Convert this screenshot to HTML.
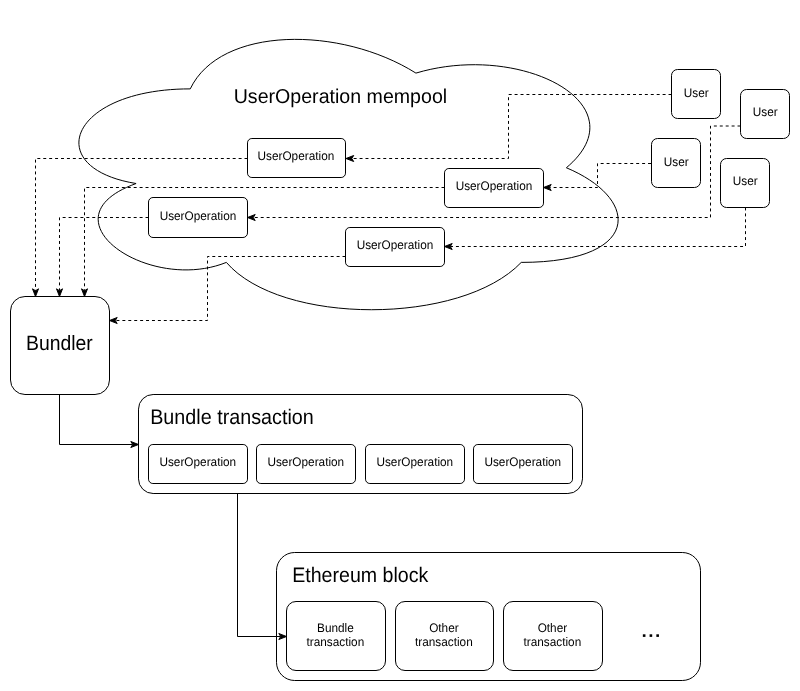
<!DOCTYPE html>
<html><head><meta charset="utf-8"><style>
html,body{margin:0;padding:0;background:#fff;}
body{width:800px;height:691px;overflow:hidden;}
svg{display:block;will-change:transform;}
text{font-family:"Liberation Sans", sans-serif;fill:#000;text-rendering:geometricPrecision;}
.cl{fill:#fff;stroke:#000;stroke-width:1;}
.bx{fill:#fff;stroke:#000;stroke-width:1;}
.dl{fill:none;stroke:#000;stroke-width:1;stroke-dasharray:2.96 2.96;}
.sl{fill:none;stroke:#000;stroke-width:1;}
.ah{fill:#000;stroke:#000;stroke-width:1;}
</style></head><body>
<svg width="800" height="691" viewBox="0 0 800 691">
<path d="M190.25,88.88 C69.89,88.88 39.80,167.75 136.09,183.53 C39.80,218.23 148.12,293.95 226.36,262.40 C280.52,325.50 461.06,325.50 521.24,262.40 C641.60,262.40 641.60,199.30 566.37,167.75 C641.60,104.65 521.24,41.55 415.93,73.10 C340.70,25.77 220.34,25.77 190.25,88.88 Z" class="cl"/>
<text transform="translate(233.70,103.40) scale(1,1.02)" font-size="19.6" text-anchor="start">UserOperation mempool</text>
<path d="M251.87,138.50 L341.13,138.50 A4.37,4.37 0 0 1 345.50,142.87 L345.50,173.13 A4.37,4.37 0 0 1 341.13,177.50 L251.87,177.50 A4.37,4.37 0 0 1 247.50,173.13 L247.50,142.87 A4.37,4.37 0 0 1 251.87,138.50 Z" class="bx"/>
<text transform="translate(295.90,160.45) scale(1,1.05)" font-size="11.8" text-anchor="middle">UserOperation</text>
<path d="M153.04,197.50 L242.96,197.50 A4.54,4.54 0 0 1 247.50,202.04 L247.50,232.96 A4.54,4.54 0 0 1 242.96,237.50 L153.04,237.50 A4.54,4.54 0 0 1 148.50,232.96 L148.50,202.04 A4.54,4.54 0 0 1 153.04,197.50 Z" class="bx"/>
<text transform="translate(198.00,219.65) scale(1,1.05)" font-size="11.8" text-anchor="middle">UserOperation</text>
<path d="M448.87,168.50 L539.13,168.50 A4.37,4.37 0 0 1 543.50,172.87 L543.50,203.13 A4.37,4.37 0 0 1 539.13,207.50 L448.87,207.50 A4.37,4.37 0 0 1 444.50,203.13 L444.50,172.87 A4.37,4.37 0 0 1 448.87,168.50 Z" class="bx"/>
<text transform="translate(494.00,189.65) scale(1,1.05)" font-size="11.8" text-anchor="middle">UserOperation</text>
<path d="M349.87,227.50 L440.13,227.50 A4.37,4.37 0 0 1 444.50,231.87 L444.50,262.13 A4.37,4.37 0 0 1 440.13,266.50 L349.87,266.50 A4.37,4.37 0 0 1 345.50,262.13 L345.50,231.87 A4.37,4.37 0 0 1 349.87,227.50 Z" class="bx"/>
<text transform="translate(395.00,248.75) scale(1,1.05)" font-size="11.8" text-anchor="middle">UserOperation</text>
<path d="M677.58,69.50 L714.42,69.50 A6.08,6.08 0 0 1 720.50,75.58 L720.50,112.42 A6.08,6.08 0 0 1 714.42,118.50 L677.58,118.50 A6.08,6.08 0 0 1 671.50,112.42 L671.50,75.58 A6.08,6.08 0 0 1 677.58,69.50 Z" class="bx"/>
<text transform="translate(696.20,96.55) scale(1,1.05)" font-size="11.8" text-anchor="middle">User</text>
<path d="M746.58,89.50 L783.42,89.50 A6.08,6.08 0 0 1 789.50,95.58 L789.50,132.42 A6.08,6.08 0 0 1 783.42,138.50 L746.58,138.50 A6.08,6.08 0 0 1 740.50,132.42 L740.50,95.58 A6.08,6.08 0 0 1 746.58,89.50 Z" class="bx"/>
<text transform="translate(765.20,115.60) scale(1,1.05)" font-size="11.8" text-anchor="middle">User</text>
<path d="M657.58,138.50 L694.42,138.50 A6.08,6.08 0 0 1 700.50,144.58 L700.50,181.42 A6.08,6.08 0 0 1 694.42,187.50 L657.58,187.50 A6.08,6.08 0 0 1 651.50,181.42 L651.50,144.58 A6.08,6.08 0 0 1 657.58,138.50 Z" class="bx"/>
<text transform="translate(676.20,165.60) scale(1,1.05)" font-size="11.8" text-anchor="middle">User</text>
<path d="M726.58,158.50 L763.42,158.50 A6.08,6.08 0 0 1 769.50,164.58 L769.50,201.42 A6.08,6.08 0 0 1 763.42,207.50 L726.58,207.50 A6.08,6.08 0 0 1 720.50,201.42 L720.50,164.58 A6.08,6.08 0 0 1 726.58,158.50 Z" class="bx"/>
<text transform="translate(745.20,184.65) scale(1,1.05)" font-size="11.8" text-anchor="middle">User</text>
<path d="M24.96,296.50 L95.04,296.50 A14.46,14.46 0 0 1 109.50,310.96 L109.50,380.04 A14.46,14.46 0 0 1 95.04,394.50 L24.96,394.50 A14.46,14.46 0 0 1 10.50,380.04 L10.50,310.96 A14.46,14.46 0 0 1 24.96,296.50 Z" class="bx"/>
<text transform="translate(59.40,350.00) scale(1,1.07)" font-size="19.4" text-anchor="middle">Bundler</text>
<path d="M153.13,394.50 L567.87,394.50 A14.63,14.63 0 0 1 582.50,409.13 L582.50,478.87 A14.63,14.63 0 0 1 567.87,493.50 L153.13,493.50 A14.63,14.63 0 0 1 138.50,478.87 L138.50,409.13 A14.63,14.63 0 0 1 153.13,394.50 Z" class="bx"/>
<text transform="translate(150.20,423.60) scale(1,1.07)" font-size="19.75" text-anchor="start">Bundle transaction</text>
<path d="M152.87,444.50 L243.13,444.50 A4.37,4.37 0 0 1 247.50,448.87 L247.50,479.13 A4.37,4.37 0 0 1 243.13,483.50 L152.87,483.50 A4.37,4.37 0 0 1 148.50,479.13 L148.50,448.87 A4.37,4.37 0 0 1 152.87,444.50 Z" class="bx"/>
<text transform="translate(197.80,465.60) scale(1,1.05)" font-size="11.8" text-anchor="middle">UserOperation</text>
<path d="M260.87,444.50 L351.13,444.50 A4.37,4.37 0 0 1 355.50,448.87 L355.50,479.13 A4.37,4.37 0 0 1 351.13,483.50 L260.87,483.50 A4.37,4.37 0 0 1 256.50,479.13 L256.50,448.87 A4.37,4.37 0 0 1 260.87,444.50 Z" class="bx"/>
<text transform="translate(305.80,465.60) scale(1,1.05)" font-size="11.8" text-anchor="middle">UserOperation</text>
<path d="M369.87,444.50 L460.13,444.50 A4.37,4.37 0 0 1 464.50,448.87 L464.50,479.13 A4.37,4.37 0 0 1 460.13,483.50 L369.87,483.50 A4.37,4.37 0 0 1 365.50,479.13 L365.50,448.87 A4.37,4.37 0 0 1 369.87,444.50 Z" class="bx"/>
<text transform="translate(414.80,465.60) scale(1,1.05)" font-size="11.8" text-anchor="middle">UserOperation</text>
<path d="M477.87,444.50 L568.13,444.50 A4.37,4.37 0 0 1 572.50,448.87 L572.50,479.13 A4.37,4.37 0 0 1 568.13,483.50 L477.87,483.50 A4.37,4.37 0 0 1 473.50,479.13 L473.50,448.87 A4.37,4.37 0 0 1 477.87,444.50 Z" class="bx"/>
<text transform="translate(522.80,465.60) scale(1,1.05)" font-size="11.8" text-anchor="middle">UserOperation</text>
<path d="M294.70,552.50 L682.30,552.50 A18.20,18.20 0 0 1 700.50,570.70 L700.50,662.30 A18.20,18.20 0 0 1 682.30,680.50 L294.70,680.50 A18.20,18.20 0 0 1 276.50,662.30 L276.50,570.70 A18.20,18.20 0 0 1 294.70,552.50 Z" class="bx"/>
<text transform="translate(292.20,581.80) scale(1,1.07)" font-size="19.6" text-anchor="start">Ethereum block</text>
<path d="M296.00,601.50 L376.00,601.50 A9.50,9.50 0 0 1 385.50,611.00 L385.50,661.00 A9.50,9.50 0 0 1 376.00,670.50 L296.00,670.50 A9.50,9.50 0 0 1 286.50,661.00 L286.50,611.00 A9.50,9.50 0 0 1 296.00,601.50 Z" class="bx"/>
<text transform="translate(335.40,631.60) scale(1,1.05)" font-size="11.8" text-anchor="middle">Bundle</text>
<text transform="translate(335.40,645.60) scale(1,1.05)" font-size="11.8" text-anchor="middle">transaction</text>
<path d="M405.00,601.50 L484.00,601.50 A9.50,9.50 0 0 1 493.50,611.00 L493.50,661.00 A9.50,9.50 0 0 1 484.00,670.50 L405.00,670.50 A9.50,9.50 0 0 1 395.50,661.00 L395.50,611.00 A9.50,9.50 0 0 1 405.00,601.50 Z" class="bx"/>
<text transform="translate(443.90,631.60) scale(1,1.05)" font-size="11.8" text-anchor="middle">Other</text>
<text transform="translate(443.90,645.60) scale(1,1.05)" font-size="11.8" text-anchor="middle">transaction</text>
<path d="M513.00,601.50 L593.00,601.50 A9.50,9.50 0 0 1 602.50,611.00 L602.50,661.00 A9.50,9.50 0 0 1 593.00,670.50 L513.00,670.50 A9.50,9.50 0 0 1 503.50,661.00 L503.50,611.00 A9.50,9.50 0 0 1 513.00,601.50 Z" class="bx"/>
<text transform="translate(552.40,631.60) scale(1,1.05)" font-size="11.8" text-anchor="middle">Other</text>
<text transform="translate(552.40,645.60) scale(1,1.05)" font-size="11.8" text-anchor="middle">transaction</text>
<rect x="642.85" y="634.30" width="2.6" height="2.6" fill="#000"/>
<rect x="649.60" y="634.30" width="2.6" height="2.6" fill="#000"/>
<rect x="656.35" y="634.30" width="2.6" height="2.6" fill="#000"/>
<path d="M671.50,94.50 L508.50,94.50 L508.50,158.50 L351.77,158.50" class="dl"/>
<path d="M346.00,158.50 L353.70,155.50 L351.77,158.50 L353.70,161.50 Z" class="ah"/>
<path d="M740.50,126.00 L710.50,126.00 L710.50,217.50 L253.28,217.50" class="dl"/>
<path d="M247.50,217.50 L255.20,214.50 L253.28,217.50 L255.20,220.50 Z" class="ah"/>
<path d="M651.00,163.50 L597.50,163.50 L597.50,187.50 L549.27,187.50" class="dl"/>
<path d="M543.50,187.50 L551.20,184.50 L549.27,187.50 L551.20,190.50 Z" class="ah"/>
<path d="M745.50,207.50 L745.50,246.50 L450.27,246.50" class="dl"/>
<path d="M444.50,246.50 L452.20,243.50 L450.27,246.50 L452.20,249.50 Z" class="ah"/>
<path d="M247.50,158.50 L35.50,158.50 L35.50,290.73" class="dl"/>
<path d="M35.50,296.50 L32.50,288.80 L35.50,290.73 L38.50,288.80 Z" class="ah"/>
<path d="M444.50,187.50 L84.50,187.50 L84.50,290.73" class="dl"/>
<path d="M84.50,296.50 L81.50,288.80 L84.50,290.73 L87.50,288.80 Z" class="ah"/>
<path d="M148.50,217.50 L59.50,217.50 L59.50,290.73" class="dl"/>
<path d="M59.50,296.50 L56.50,288.80 L59.50,290.73 L62.50,288.80 Z" class="ah"/>
<path d="M345.50,256.50 L207.50,256.50 L207.50,320.50 L115.28,320.50" class="dl"/>
<path d="M109.50,320.50 L117.20,317.50 L115.28,320.50 L117.20,323.50 Z" class="ah"/>
<path d="M59.50,394.50 L59.50,444.50 L132.72,444.50" class="sl"/>
<path d="M138.50,444.50 L130.80,447.50 L132.72,444.50 L130.80,441.50 Z" class="ah"/>
<path d="M237.50,493.50 L237.50,636.50 L280.73,636.50" class="sl"/>
<path d="M286.50,636.50 L278.80,639.50 L280.73,636.50 L278.80,633.50 Z" class="ah"/>
</svg>
</body></html>
